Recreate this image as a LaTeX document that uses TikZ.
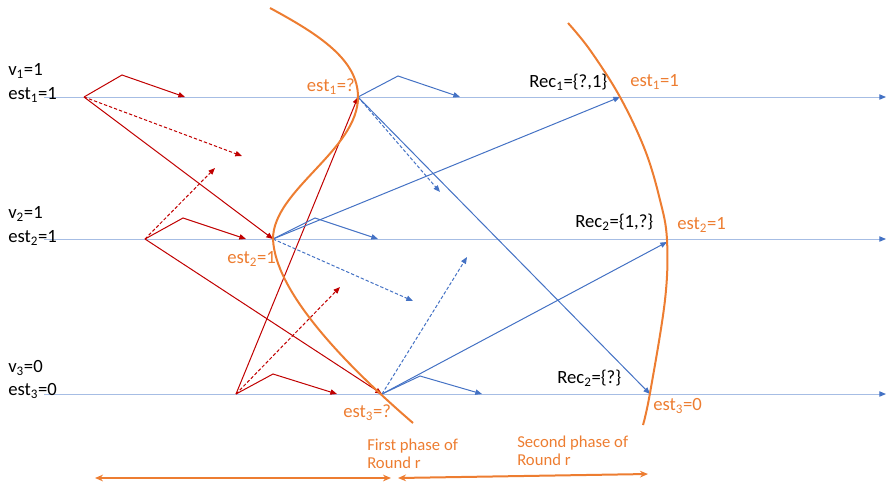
\documentclass[tikz,border=0pt]{standalone}
\usepackage{fontspec}
\setmainfont{Carlito}
\usetikzlibrary{arrows.meta}
\definecolor{myred}{HTML}{C00000}
\definecolor{myblue}{HTML}{4472C4}
\definecolor{tlcol}{HTML}{A6BDE4}
\definecolor{myorange}{HTML}{ED7D31}
\begin{document}
\begin{tikzpicture}[x=0.75pt,y=-0.75pt,
  timeline/.style={draw=tlcol, line width=0.7pt, -{Triangle[length=5pt,width=4pt,color=myblue]}},
  redmsg/.style={draw=myred, line width=0.75pt, -{Triangle[length=5pt,width=4pt]}},
  reddash/.style={redmsg, dash pattern=on 2.5pt off 1.5pt},
  bluemsg/.style={draw=myblue, line width=0.75pt, -{Triangle[length=5pt,width=4pt]}},
  bluedash/.style={bluemsg, dash pattern=on 2.5pt off 1.5pt},
  phasecurve/.style={draw=myorange, line width=1.5pt},
  spanarrow/.style={draw=myorange, line width=1.5pt, {Stealth[length=6pt,width=5pt]}-{Stealth[length=6pt,width=5pt]}},
  lab/.style={font=\fontsize{14}{17}\selectfont, inner sep=0pt},
  olab/.style={lab, text=myorange},
  plab/.style={font=\fontsize{12.5}{13.5}\selectfont, inner sep=0pt, text=myorange, align=left}
]
\useasboundingbox (0,0) rectangle (887,483);

% timelines
\coordinate (t1s) at (44,97);  \coordinate (t1e) at (886,97);
\coordinate (t2s) at (44,239); \coordinate (t2e) at (886,239);
\coordinate (t3s) at (44,394); \coordinate (t3e) at (886,394);
\draw[timeline] (t1s) -- (t1e);
\draw[timeline] (t2s) -- (t2e);
\draw[timeline] (t3s) -- (t3e);

% process labels
\node[lab, anchor=west] (v1) at (8,71) {v\textsubscript{1}=1};
\node[lab, anchor=west] (e1) at (8,95) {est\textsubscript{1}=1};
\node[lab, anchor=west] (v2) at (8,214) {v\textsubscript{2}=1};
\node[lab, anchor=west] (e2) at (8,238) {est\textsubscript{2}=1};
\node[lab, anchor=west] (v3) at (8,368) {v\textsubscript{3}=0};
\node[lab, anchor=west] (e3) at (8,391) {est\textsubscript{3}=0};

% event points
\coordinate (a1) at (84,97);
\coordinate (a1b) at (122,75);
\coordinate (a1e) at (185,97);
\coordinate (a1d) at (242,156);
\coordinate (a2) at (145,239);
\coordinate (a2b) at (183,218);
\coordinate (a2e) at (246,239);
\coordinate (a2d) at (215,168);
\coordinate (a3) at (236,394);
\coordinate (a3b) at (273,374);
\coordinate (a3e) at (337,394);
\coordinate (a3d) at (340,287);
\coordinate (b1) at (358,97);
\coordinate (b2) at (273,239);
\coordinate (b3) at (382,394);
\coordinate (b1b) at (398,76);
\coordinate (b1e) at (460,97);
\coordinate (b1d) at (440,192);
\coordinate (b2b) at (315,218);
\coordinate (b2e) at (378,239);
\coordinate (b2d) at (413,301);
\coordinate (b3b) at (420,376);
\coordinate (b3e) at (482,394);
\coordinate (b3d) at (467,257);
\coordinate (c1) at (620,97);
\coordinate (c2) at (667,242);
\coordinate (c3) at (650,394);

% first phase (red)
\draw[redmsg] (a1) -- (a1b) -- (a1e);
\draw[reddash] (a1) -- (a1d);
\draw[redmsg] (a1) -- (b2);
\draw[redmsg] (a2) -- (a2b) -- (a2e);
\draw[reddash] (a2) -- (a2d);
\draw[redmsg] (a2) -- (b3);
\draw[redmsg] (a3) -- (a3b) -- (a3e);
\draw[reddash] (a3) -- (a3d);
\draw[redmsg] (a3) -- (b1);

% second phase (blue)
\draw[bluemsg] (b1) -- (b1b) -- (b1e);
\draw[bluedash] (b1) -- (b1d);
\draw[bluemsg] (b1) -- (c3);
\draw[bluemsg] (b2) -- (b2b) -- (b2e);
\draw[bluedash] (b2) -- (b2d);
\draw[bluemsg] (b2) -- (c1);
\draw[bluemsg] (b3) -- (b3b) -- (b3e);
\draw[bluedash] (b3) -- (b3d);
\draw[bluemsg] (b3) -- (c2);

% phase boundary curves
\coordinate (k0) at (270,8);
\coordinate (k1) at (358,97);
\coordinate (k2) at (273,239);
\coordinate (k3) at (413,423);
\draw[phasecurve] (k0) .. controls (320,35) and (358,60) .. (k1)
  .. controls (358,150) and (273,190) .. (k2)
  .. controls (275,290) and (340,360) .. (k3);
\draw[phasecurve] plot[smooth, tension=0.6] coordinates {(568,23) (590,50) (620,97) (645,150) (660,200) (667,240) (665,300) (650,393) (643,425)};

% orange estimates
\node[olab, anchor=east] (q1) at (355,87) {est\textsubscript{1}=?};
\node[olab, anchor=west] (q2) at (227,259) {est\textsubscript{2}=1};
\node[olab, anchor=west] (q3) at (343,413) {est\textsubscript{3}=?};
\node[olab, anchor=west] (r1) at (630,82) {est\textsubscript{1}=1};
\node[olab, anchor=west] (r2) at (677,225) {est\textsubscript{2}=1};
\node[olab, anchor=west] (r3) at (653,406) {est\textsubscript{3}=0};

% received sets
\node[lab, anchor=west] (rec1) at (529,82) {Rec\textsubscript{1}=\{?,1\}};
\node[lab, anchor=west] (rec2) at (575,222) {Rec\textsubscript{2}=\{1,?\}};
\node[lab, anchor=west] (rec3) at (557,378) {Rec\textsubscript{2}=\{?\}};

% phase labels
\node[plab, anchor=west] (ph1) at (367,454) {First phase of\\Round r};
\node[plab, anchor=west] (ph2) at (517,451) {Second phase of\\Round r};

% span arrows
\coordinate (s1a) at (95,478);
\coordinate (s1b) at (391,478);
\coordinate (s2a) at (398,478);
\coordinate (s2b) at (648,474);
\draw[spanarrow] (s1a) -- (s1b);
\draw[spanarrow] (s2a) -- (s2b);
\end{tikzpicture}
\end{document}
